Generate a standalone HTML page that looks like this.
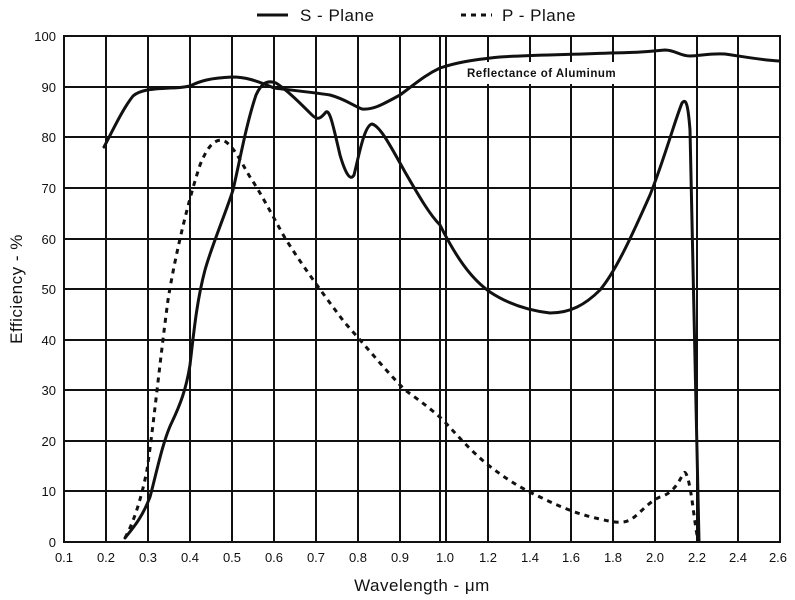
<!DOCTYPE html>
<html><head><meta charset="utf-8"><style>
body{margin:0;background:#fff}
svg{display:block}
text{font-family:"Liberation Sans",Arial,sans-serif;fill:#111}
</style></head><body>
<svg width="795" height="600" viewBox="0 0 795 600">
<g stroke="#111" stroke-width="2" fill="none">
<rect x="64" y="36" width="716" height="506"/>
<path d="M106 36V542M148 36V542M190 36V542M232 36V542M274 36V542M316 36V542M358 36V542M400 36V542M440 36V542M446 36V542M488 36V542M530 36V542M571 36V542M613 36V542M655 36V542M697 36V542M738 36V542"/>
<path d="M64 87H780M64 137H780M64 188H780M64 239H780M64 289H780M64 340H780M64 390H780M64 441H780M64 491H780"/>
</g>
<rect x="463" y="62" width="180" height="22" fill="#fff"/>
<text x="467" y="77" font-size="11.5" font-weight="bold" letter-spacing="0.5">Reflectance  of  Aluminum</text>
<g fill="none" stroke="#111" stroke-width="3" stroke-linejoin="round" stroke-linecap="round">
<path d="M104,147 C112,132 122,110 133,96 C140,90 150,89 170,88 C180,88 185,87 190,86 C200,81 210,78 232,77 C245,77 255,80 274,88 C290,90 310,92 330,95 C345,99 352,105 362,109 C372,110 380,106 400,95 C415,84 425,75 440,68 C455,63 470,60 500,57 C530,55 560,55 610,53 C630,53 645,52 665,50 C675,50 680,56 690,56 C700,56 710,53 725,54 C740,56 760,60 779,61"/>
<path d="M125,538 C133,528 142,518 150,497 C156,475 163,440 172,422 C180,405 186,390 190,365 C194,330 197,300 205,270 C212,245 225,215 233,190 C240,160 246,125 256,95 C262,82 268,80 276,83 C287,90 300,103 312,115 C318,121 321,118 326,112 C330,110 333,125 340,155 C345,172 350,182 354,175 C358,160 364,125 372,124 C380,126 390,145 405,172 C420,198 430,215 440,225 C455,255 470,278 490,292 C505,302 525,310 550,313 C570,313 585,305 600,290 C615,272 630,240 650,195 C664,160 675,120 682,103 C686,98 688,104 690,130 C692,200 696,420 699,541"/>
</g>
<path d="M125,538 C132,525 140,505 147,470 C153,430 160,360 168,300 C176,250 190,195 200,165 C207,148 213,140 222,140 C232,143 240,160 250,177 C262,195 272,215 285,238 C300,262 320,290 345,323 C365,345 385,370 405,390 C420,401 430,408 443,420 C458,436 470,450 488,465 C505,478 520,488 540,497 C560,507 580,515 600,519 C612,522 622,524 630,520 C640,514 648,502 660,497 C670,494 676,488 683,474 C686,468 689,480 692,500 C694,515 696,530 698,541" fill="none" stroke="#111" stroke-width="3" stroke-dasharray="5,5"/>
<g font-size="13" text-anchor="end">
<text x="56" y="41">100</text><text x="56" y="92">90</text><text x="56" y="142">80</text><text x="56" y="193">70</text><text x="56" y="244">60</text><text x="56" y="294">50</text><text x="56" y="345">40</text><text x="56" y="395">30</text><text x="56" y="446">20</text><text x="56" y="496">10</text><text x="56" y="547">0</text>
</g>
<g font-size="13" text-anchor="middle">
<text x="64" y="562">0.1</text><text x="106" y="562">0.2</text><text x="148" y="562">0.3</text><text x="190" y="562">0.4</text><text x="232" y="562">0.5</text><text x="274" y="562">0.6</text><text x="316" y="562">0.7</text><text x="358" y="562">0.8</text><text x="400" y="562">0.9</text><text x="445" y="562">1.0</text><text x="488" y="562">1.2</text><text x="530" y="562">1.4</text><text x="571" y="562">1.6</text><text x="613" y="562">1.8</text><text x="655" y="562">2.0</text><text x="697" y="562">2.2</text><text x="738" y="562">2.4</text><text x="778" y="562">2.6</text>
</g>
<text x="422" y="591" font-size="17" text-anchor="middle" letter-spacing="0.5">Wavelength - μm</text>
<text transform="translate(22,289) rotate(-90)" font-size="17" text-anchor="middle" letter-spacing="0.5">Efficiency - %</text>
<line x1="257" y1="15" x2="288" y2="15" stroke="#111" stroke-width="3"/>
<text x="300" y="21" font-size="17" letter-spacing="0.5">S - Plane</text>
<line x1="461" y1="15" x2="492" y2="15" stroke="#111" stroke-width="3" stroke-dasharray="5,5"/>
<text x="502" y="21" font-size="17" letter-spacing="0.5">P - Plane</text>
</svg>
</body></html>
